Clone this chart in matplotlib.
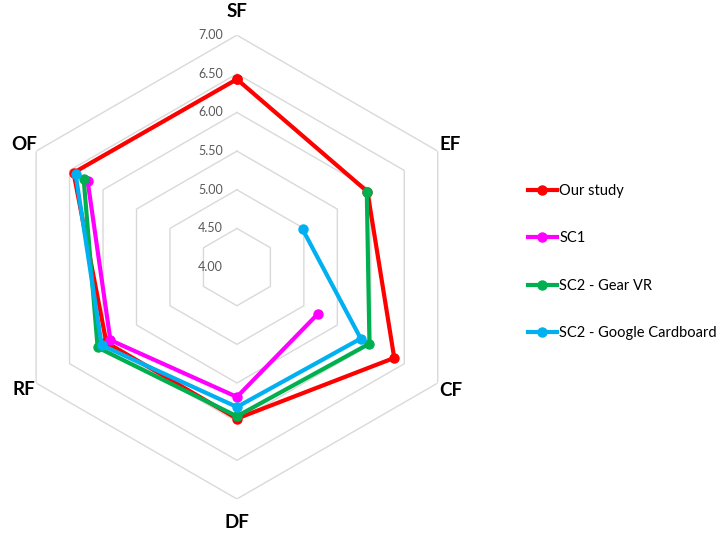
import matplotlib
matplotlib.use("Agg")
import matplotlib.pyplot as plt
import numpy as np

plt.rcParams['font.family'] = ['Lato', 'DejaVu Sans']

# axes, clockwise from the top
categories = ["SF", "EF", "CF", "DF", "RF", "OF"]
ticks = [4.0, 4.5, 5.0, 5.5, 6.0, 6.5, 7.0]

# values, nan = no value
our_study = [6.43, 5.95, 6.35, 5.96, 5.95, 6.44]
sc1 = [np.nan, np.nan, 5.21, 5.68, 5.89, 6.23]
sc2_gear = [np.nan, 5.94, 5.98, 5.93, 6.08, 6.29]
sc2_cardboard = [np.nan, 4.98, 5.85, 5.81, 6.02, 6.41]

series = [
    ("Our study", our_study, "#FF0000"),
    ("SC1", sc1, "#FF00FF"),
    ("SC2 - Gear VR", sc2_gear, "#00B050"),
    ("SC2 - Google Cardboard", sc2_cardboard, "#00B0F0"),
]

angles = np.linspace(0, 2 * np.pi, len(categories), endpoint=False)
closed = np.append(angles, angles[0])

fig = plt.figure(figsize=(7.27, 5.35), dpi=100)
ax = fig.add_axes([0.00688, 0.0673, 0.638, 0.867], projection="polar")
ax.set_theta_offset(np.pi / 2)
ax.set_theta_direction(-1)
ax.set_ylim(ticks[0], ticks[-1])
ax.grid(False)
ax.spines["polar"].set_visible(False)
ax.set_xticks([])
ax.set_yticks([])

# hexagonal grid (no spokes)
for t in ticks[1:]:
    ax.plot(closed, [t] * len(closed), color="#D9D9D9", lw=1, zorder=1)

# value labels up the top spoke
for t in ticks:
    ax.annotate(f"{t:.2f}", xy=(0, t), xytext=(-10, 0), textcoords="offset points",
                ha="right", va="center", fontsize=9, color="#595959")

# category labels
label_r = [7.3, 7.18, 7.2, 7.3, 7.18, 7.18]
for a, name, r in zip(angles, categories, label_r):
    ax.text(a, r, name, ha="center", va="center", fontsize=13.5,
            fontweight="bold", color="black", clip_on=False)

for name, vals, col in series:
    v = np.append(vals, vals[0])
    ax.plot(closed, v, color=col, lw=3, marker="o", markersize=6.5,
            label=name, zorder=3, clip_on=False)

leg = fig.legend(loc="center left", bbox_to_anchor=(0.708, 0.51), frameon=False,
                 fontsize=10.5, handlelength=2.0, handletextpad=0.15,
                 labelspacing=2.3)

fig.savefig("out.png", dpi=100)
